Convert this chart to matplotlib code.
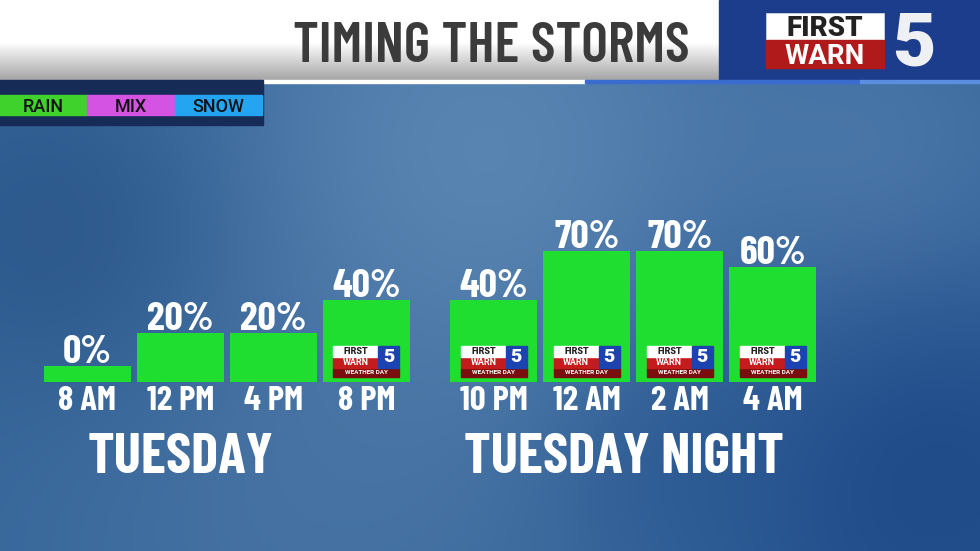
import numpy as np
import matplotlib.pyplot as plt
from matplotlib.patches import Rectangle

# --- Data ---
TIMES = ['8 AM', '12 PM', '4 PM', '8 PM', '10 PM', '12 AM', '2 AM', '4 AM']
CHANCE = [0, 20, 20, 40, 40, 70, 70, 60]          # rain chance, percent
GROUP = [0, 0, 0, 0, 1, 1, 1, 1]                  # 0 = Tuesday, 1 = Tuesday night
DAY_LABELS = ['TUESDAY', 'TUESDAY NIGHT']
WEATHER_DAY = [False, False, False, True, True, True, True, True]
LEGEND_NAMES = ['RAIN', 'MIX', 'SNOW']
LEGEND_COLORS = ['#3fd22c', '#d553e2', '#23a5f2']
TITLE = 'TIMING THE STORMS'

# --- Style / layout (pixels of a 980x551 canvas) ---
W, H = 980, 551
BAR_GREEN = '#1fde30'
GROUP_GAP = 0.37      # extra space between the two day groups
BASE = -10            # a 0% bar still shows as a thin sliver
BAR_W = 0.935
DAY_X = [1.0, 5.77]   # where the day names sit, in bar units
NARROW = ['Barlow Condensed', 'DejaVu Sans']
WIDE = ['Roboto', 'DejaVu Sans']


def blue_backdrop():
    """Soft cloudy blue gradient used behind everything."""
    yy, xx = np.mgrid[0:H, 0:W].astype(float)
    img = np.ones((H, W, 3)) * np.array([0.20, 0.39, 0.60])
    blobs = [  # cx, cy, sigma, rgb, strength
        (480, 170, 210, (0.38, 0.55, 0.72), 0.85),
        (880, 200, 130, (0.35, 0.52, 0.70), 0.7),
        (300, 520, 220, (0.30, 0.47, 0.65), 0.6),
        (60, 230, 120, (0.16, 0.33, 0.53), 0.7),
        (930, 480, 170, (0.11, 0.28, 0.53), 0.85),
        (680, 460, 90, (0.15, 0.33, 0.56), 0.5),
    ]
    for cx, cy, s, rgb, k in blobs:
        w = k * np.exp(-((xx - cx) ** 2 + (yy - cy) ** 2) / (2 * s ** 2))
        img = img * (1 - w[..., None]) + np.array(rgb) * w[..., None]
    return img


fig = plt.figure(figsize=(W / 100, H / 100), dpi=100)

# background canvas in pixel coordinates
bg = fig.add_axes([0, 0, 1, 1])
bg.set_xlim(0, W)
bg.set_ylim(H, 0)
bg.axis('off')
bg.imshow(blue_backdrop(), extent=(0, W, H, 0), aspect='auto', zorder=0)

# --- title bar ---
grad = np.ones((80, 1, 3))
fade = np.clip((np.arange(80) - 42) / 38.0, 0, 1)
grad[:, 0, :] = (1 - 0.36 * fade)[:, None]
bg.imshow(grad, extent=(0, 719, 80, 0), aspect='auto', zorder=1)
bg.text(491, 62, TITLE, ha='center', va='baseline', fontsize=41, fontweight=600,
        color='#3b3b3b', family=NARROW, zorder=3)
bg.add_patch(Rectangle((263, 80), 322, 3, color='white', zorder=2))
bg.add_patch(Rectangle((585, 80), 275, 3, color='#3a6cd0', zorder=2))
bg.add_patch(Rectangle((860, 80), 120, 3, color='#5b8de0', zorder=2))

# station logo block
bg.add_patch(Rectangle((719, 0), 261, 82, color='#1c3d8c', zorder=1))
bg.add_patch(Rectangle((766, 13), 118, 27, facecolor='white', edgecolor='#dddddd', lw=0.5, zorder=2))
bg.add_patch(Rectangle((766, 40), 118, 28, color='#b01a1a', zorder=2))
bg.text(825, 36, 'FIRST', ha='center', va='baseline', fontsize=20, fontweight='black',
        color='#222222', family=WIDE, zorder=3)
bg.text(825, 64, 'WARN', ha='center', va='baseline', fontsize=20, fontweight='bold',
        color='white', family=WIDE, zorder=3)
bg.text(914, 66, '5', ha='center', va='baseline', fontsize=54, fontweight='black',
        color='#eef0f4', family=WIDE, zorder=3)

# precip type legend
bg.add_patch(Rectangle((0, 80), 263, 45, color='#172b57', zorder=2))
seg_w = 262 / len(LEGEND_NAMES)
for i, (name, col) in enumerate(zip(LEGEND_NAMES, LEGEND_COLORS)):
    bg.add_patch(Rectangle((i * seg_w, 95), seg_w, 20, color=col, zorder=3))
    bg.text(i * seg_w + seg_w / 2, 111.5, name, ha='center', va='baseline', fontsize=13,
            fontweight='medium', color='#111111', family=WIDE, zorder=4)

# --- bars ---
x = np.arange(len(TIMES)) + GROUP_GAP * np.array(GROUP)
chance = np.array(CHANCE)

ax = fig.add_axes([41 / W, (H - 382) / H, 778.4 / W, 180.4 / H])
ax.set_xlim(-0.5, x[-1] + 0.5)
ax.set_ylim(BASE, 100)
ax.patch.set_alpha(0)
for s in ax.spines.values():
    s.set_visible(False)
ax.set_yticks([])

ax.bar(x, chance - BASE, bottom=BASE, width=BAR_W, color=BAR_GREEN, zorder=2)

for xi, v in zip(x, chance):
    ax.annotate(f'{v}%', (xi, v), xytext=(0, 2), textcoords='offset points',
                ha='center', va='baseline', color='white', fontsize=29,
                fontweight='bold', family=NARROW)

ax.set_xticks(x, TIMES)
ax.tick_params(axis='x', length=0, pad=3, labelsize=25, labelcolor='white')
for lab in ax.get_xticklabels():
    lab.set_fontweight('bold')
    lab.set_family(NARROW)

for dx, name in zip(DAY_X, DAY_LABELS):
    ax.text(dx, -0.505, name, transform=ax.get_xaxis_transform(), ha='center',
            va='baseline', color='white', fontsize=41, fontweight='bold', family=NARROW)

# "weather day" badges near the foot of the bigger bars
bw = 66 / 93          # badge width in bar units
bh = 31 / 1.64        # badge height in percent units
for xi, flag in zip(x, WEATHER_DAY):
    if not flag:
        continue
    x0 = xi - bw / 2
    y0 = BASE + 5 / 1.64
    ax.add_patch(Rectangle((x0, y0), bw, bh * 0.30, color='#7a0d0d', zorder=3))
    ax.add_patch(Rectangle((x0, y0 + bh * 0.30), bw * 0.68, bh * 0.34, color='#c41c1c', zorder=3))
    ax.add_patch(Rectangle((x0, y0 + bh * 0.64), bw * 0.68, bh * 0.36, color='white', zorder=3))
    ax.add_patch(Rectangle((x0 + bw * 0.68, y0 + bh * 0.30), bw * 0.32, bh * 0.70,
                           color='#1c44b0', zorder=3))
    ax.text(x0 + bw * 0.34, y0 + bh * 0.82, 'FIRST', ha='center', va='center', fontsize=6.5,
            fontweight='black', color='#222222', family=WIDE, zorder=4)
    ax.text(x0 + bw * 0.34, y0 + bh * 0.47, 'WARN', ha='center', va='center', fontsize=6.5,
            fontweight='bold', color='white', family=WIDE, zorder=4)
    ax.text(x0 + bw * 0.84, y0 + bh * 0.65, '5', ha='center', va='center', fontsize=14,
            fontweight='black', color='white', family=WIDE, zorder=4)
    ax.text(xi, y0 + bh * 0.15, 'WEATHER DAY', ha='center', va='center', fontsize=4.6,
            fontweight='bold', color='white', family=WIDE, zorder=4)

fig.savefig('out.png', dpi=100)
